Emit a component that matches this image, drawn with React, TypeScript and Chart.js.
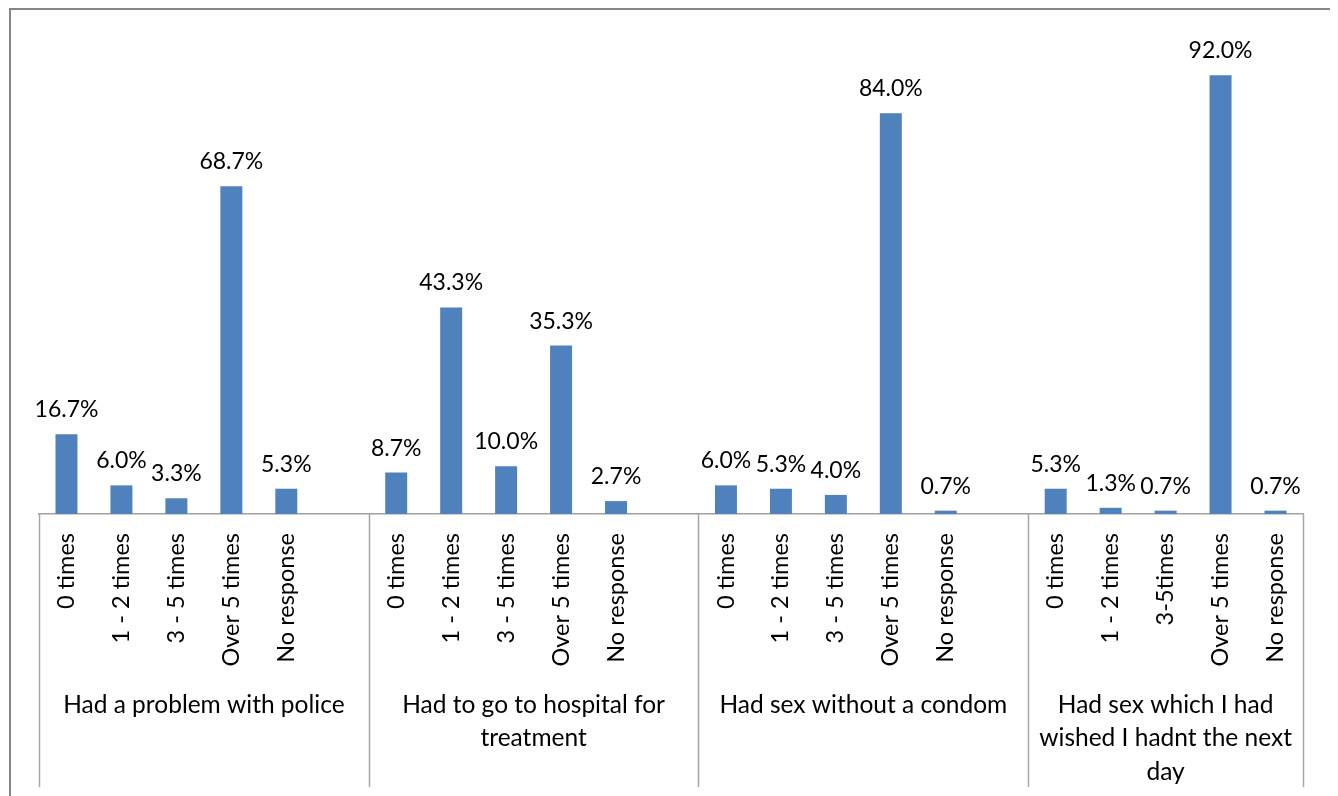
import React, { useEffect, useRef } from 'react';
import { Chart, registerables } from 'chart.js';

Chart.register(...registerables);

// Frequency answers, one block of bars per experience
const frequencyLabels = ['0 times', '1 - 2 times', '3 - 5 times', 'Over 5 times', 'No response'];
const frequencyLabelsLast = ['0 times', '1 - 2 times', '3-5times', 'Over 5 times', 'No response'];

// Percent of respondents for each answer
const policeProblem = [16.7, 6.0, 3.3, 68.7, 5.3];
const hospitalTreatment = [8.7, 43.3, 10.0, 35.3, 2.7];
const sexWithoutCondom = [6.0, 5.3, 4.0, 84.0, 0.7];
const regrettedSex = [5.3, 1.3, 0.7, 92.0, 0.7];

// Group captions under the axis (already broken into lines)
const groupCaptions = [
  ['Had a problem with police'],
  ['Had to go to hospital for', 'treatment'],
  ['Had sex without a condom'],
  ['Had sex which I had', 'wished I hadnt the next', 'day'],
];

// Each group is followed by an empty slot, except the last one
const categories: string[] = [
  ...frequencyLabels, '',
  ...frequencyLabels, '',
  ...frequencyLabels, '',
  ...frequencyLabelsLast,
];
const values: (number | null)[] = [
  ...policeProblem, null,
  ...hospitalTreatment, null,
  ...sexWithoutCondom, null,
  ...regrettedSex,
];
const groupBounds = [0, 6, 12, 18, 23];

const FONT = 'Lato, "Noto Sans", sans-serif';

const valueLabels = {
  id: 'valueLabels',
  afterDatasetsDraw(chart: any) {
    const { ctx } = chart;
    const meta = chart.getDatasetMeta(0);
    ctx.save();
    ctx.font = `23px ${FONT}`;
    ctx.fillStyle = '#000';
    ctx.textAlign = 'center';
    ctx.textBaseline = 'alphabetic';
    meta.data.forEach((bar: any, i: number) => {
      const v = values[i];
      if (v == null) return;
      ctx.fillText(`${v.toFixed(1)}%`, bar.x, bar.y - 17);
    });
    ctx.restore();
  },
};

const groupAxis = {
  id: 'groupAxis',
  afterDraw(chart: any) {
    const { ctx, chartArea } = chart;
    const x = chart.scales.x;
    const n = categories.length;
    const edge = (i: number) =>
      i <= 0 ? chartArea.left
        : i >= n ? chartArea.right
          : (x.getPixelForValue(i - 1) + x.getPixelForValue(i)) / 2;
    const bottom = chart.height - 9;
    ctx.save();
    ctx.strokeStyle = '#a6a6a6';
    ctx.lineWidth = 1.5;
    groupBounds.forEach((b) => {
      const px = Math.round(edge(b)) + 0.5;
      ctx.beginPath();
      ctx.moveTo(px, chartArea.bottom);
      ctx.lineTo(px, bottom);
      ctx.stroke();
    });
    ctx.font = `24.5px ${FONT}`;
    ctx.fillStyle = '#000';
    ctx.textAlign = 'center';
    ctx.textBaseline = 'middle';
    groupCaptions.forEach((lines, g) => {
      const cx = (edge(groupBounds[g]) + edge(groupBounds[g + 1])) / 2;
      lines.forEach((line, k) => {
        ctx.fillText(line, cx, chartArea.bottom + 191 + k * 33.5);
      });
    });
    ctx.restore();
  },
};

export default function App() {
  const canvasRef = useRef<HTMLCanvasElement | null>(null);

  useEffect(() => {
    if (!canvasRef.current) return;
    const chart = new Chart(canvasRef.current, {
      type: 'bar',
      data: {
        labels: categories,
        datasets: [
          {
            data: values,
            backgroundColor: '#4F81BD',
            borderWidth: 0,
            barPercentage: 0.4,
            categoryPercentage: 1,
          },
        ],
      },
      options: {
        animation: false,
        responsive: true,
        maintainAspectRatio: false,
        layout: { padding: { left: 28, right: 27, top: 27, bottom: 0 } },
        plugins: {
          legend: { display: false },
          tooltip: { enabled: false },
        },
        scales: {
          x: {
            grid: { display: false, drawTicks: false },
            border: { display: true, color: '#a0a0a0', width: 1.5 },
            ticks: {
              autoSkip: false,
              minRotation: 90,
              maxRotation: 90,
              padding: 19,
              color: '#000',
              font: { family: FONT, size: 23.5 },
            },
            afterFit: (axis: any) => {
              axis.height = 282;
            },
          },
          y: {
            display: false,
            min: 0,
            max: 100,
          },
        },
      },
      plugins: [valueLabels, groupAxis],
    });
    return () => chart.destroy();
  }, []);

  return (
    <div
      style={{
        marginLeft: 1,
        width: 1319,
        height: 786,
        borderTop: '2px solid #868686',
        borderLeft: '2px solid #868686',
        borderRight: '2px solid #868686',
        background: '#fff',
      }}
    >
      <div style={{ position: 'relative', width: 1319, height: 786 }}>
        <canvas ref={canvasRef} />
      </div>
    </div>
  );
}
